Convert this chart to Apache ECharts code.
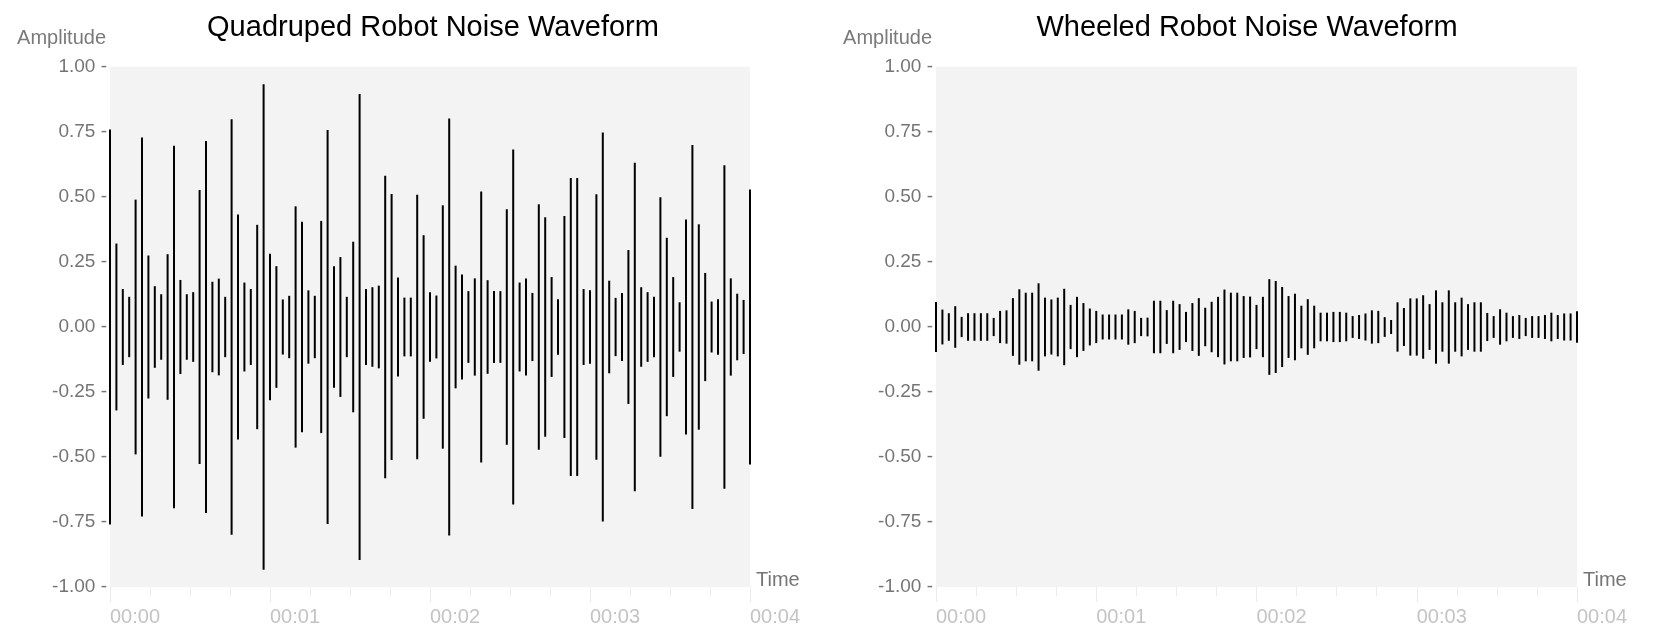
<!DOCTYPE html>
<html>
<head>
<meta charset="utf-8">
<title>Robot Noise Waveform</title>
<script src="https://cdn.jsdelivr.net/npm/echarts@6/dist/echarts.min.js"></script>
<style>
  html, body { margin: 0; padding: 0; background: #fff; }
  #chart { width: 1657px; height: 642px; }
</style>
</head>
<body>
<div id="chart"></div>
<script>
// samples per second of the waveform (one bar every 0.04 s)
const sampleRate = 25;
const timeLabels = ['00:00', '00:01', '00:02', '00:03', '00:04'];
const chartTitles = ['Quadruped Robot Noise Waveform', 'Wheeled Robot Noise Waveform'];

// peak amplitude of each sample; each bar runs from -a to +a
const quadrupedAmp = [
  0.760, 0.321, 0.146, 0.116, 0.490, 0.729, 0.275, 0.157, 0.126, 0.280,
  0.697, 0.181, 0.126, 0.134, 0.527, 0.715, 0.174, 0.186, 0.116, 0.799,
  0.433, 0.171, 0.146, 0.393, 0.934, 0.282, 0.234, 0.106, 0.120, 0.464,
  0.405, 0.141, 0.120, 0.408, 0.758, 0.234, 0.269, 0.116, 0.328, 0.896,
  0.146, 0.153, 0.159, 0.582, 0.512, 0.190, 0.113, 0.113, 0.509, 0.353,
  0.134, 0.121, 0.468, 0.802, 0.236, 0.202, 0.138, 0.187, 0.521, 0.180,
  0.138, 0.138, 0.453, 0.683, 0.171, 0.187, 0.131, 0.472, 0.422, 0.192,
  0.107, 0.427, 0.573, 0.573, 0.146, 0.141, 0.511, 0.748, 0.178, 0.112,
  0.131, 0.296, 0.632, 0.153, 0.134, 0.116, 0.499, 0.343, 0.192, 0.095,
  0.413, 0.700, 0.395, 0.208, 0.098, 0.107, 0.622, 0.187, 0.128, 0.104,
  0.529
];

const wheeledAmp = [
  0.096, 0.067, 0.053, 0.080, 0.039, 0.053, 0.053, 0.053, 0.053, 0.035,
  0.062, 0.064, 0.111, 0.145, 0.132, 0.132, 0.168, 0.113, 0.106, 0.113,
  0.147, 0.085, 0.116, 0.092, 0.071, 0.062, 0.048, 0.048, 0.048, 0.048,
  0.068, 0.062, 0.035, 0.036, 0.101, 0.101, 0.065, 0.101, 0.088, 0.058,
  0.092, 0.111, 0.074, 0.097, 0.116, 0.144, 0.132, 0.132, 0.119, 0.117,
  0.085, 0.116, 0.184, 0.177, 0.154, 0.119, 0.128, 0.082, 0.107, 0.082,
  0.055, 0.055, 0.058, 0.058, 0.055, 0.042, 0.046, 0.052, 0.064, 0.062,
  0.038, 0.027, 0.095, 0.073, 0.110, 0.110, 0.122, 0.088, 0.141, 0.095,
  0.141, 0.095, 0.113, 0.088, 0.095, 0.095, 0.054, 0.042, 0.068, 0.055,
  0.042, 0.046, 0.035, 0.042, 0.042, 0.046, 0.055, 0.046, 0.052, 0.052,
  0.061
];

const FONT = 'Arial, "Liberation Sans", sans-serif';

function toPoints(amps) {
  return amps.map((a, i) => [i / sampleRate, a]);
}

function renderBar(params, api) {
  const t = api.value(0);
  const a = api.value(1);
  const top = api.coord([t, a]);
  const bottom = api.coord([t, -a]);
  return {
    type: 'line',
    shape: { x1: top[0], y1: top[1], x2: bottom[0], y2: bottom[1] },
    style: { stroke: '#000', lineWidth: 2 },
  };
}

function makeXAxis(gridIndex) {
  return {
    gridIndex,
    type: 'value',
    min: 0,
    max: 4,
    interval: 1,
    name: 'Time',
    nameLocation: 'end',
    nameGap: 6,
    nameTextStyle: {
      color: '#757575',
      fontSize: 20,
      fontFamily: FONT,
      verticalAlign: 'bottom',
      lineHeight: 14,
    },
    axisLine: { show: false, onZero: false },
    axisTick: { show: true, length: 15, lineStyle: { color: '#ebebeb', width: 1 } },
    minorTick: { show: true, splitNumber: 4, length: 9, lineStyle: { color: '#ebebeb', width: 1 } },
    splitLine: { show: false },
    axisLabel: {
      color: '#c4c4c4',
      fontSize: 20,
      fontFamily: FONT,
      align: 'left',
      margin: 20,
      formatter: (v) => timeLabels[Math.round(v)],
    },
  };
}

function makeYAxis(gridIndex) {
  return {
    gridIndex,
    type: 'value',
    min: -1,
    max: 1,
    interval: 0.25,
    name: 'Amplitude',
    nameLocation: 'end',
    nameGap: 19,
    nameTextStyle: {
      color: '#7a7a7a',
      fontSize: 20,
      fontFamily: FONT,
      align: 'right',
      padding: [0, 4, 0, 0],
    },
    axisLine: { show: false },
    axisTick: { show: false },
    splitLine: { show: false },
    axisLabel: {
      color: '#757575',
      fontSize: 19,
      fontFamily: FONT,
      margin: 3,
      formatter: (v) => v.toFixed(2) + ' -',
    },
  };
}

const chart = echarts.init(document.getElementById('chart'));

chart.setOption({
  backgroundColor: '#ffffff',
  animation: false,
  title: [
    {
      text: chartTitles[0],
      left: 428,
      top: 8,
      textAlign: 'center',
      textStyle: { color: '#000', fontSize: 29, fontWeight: 'normal', fontFamily: FONT },
    },
    {
      text: chartTitles[1],
      left: 1242,
      top: 8,
      textAlign: 'center',
      textStyle: { color: '#000', fontSize: 29, fontWeight: 'normal', fontFamily: FONT },
    },
  ],
  grid: [
    { left: 110, right: 907, top: 67, bottom: 55, show: true, backgroundColor: '#f3f3f3', borderWidth: 0 },
    { left: 936, right: 80, top: 67, bottom: 55, show: true, backgroundColor: '#f3f3f3', borderWidth: 0 },
  ],
  xAxis: [makeXAxis(0), makeXAxis(1)],
  yAxis: [makeYAxis(0), makeYAxis(1)],
  series: [
    {
      name: 'Quadruped',
      type: 'custom',
      xAxisIndex: 0,
      yAxisIndex: 0,
      renderItem: renderBar,
      encode: { x: 0, y: 1 },
      data: toPoints(quadrupedAmp),
    },
    {
      name: 'Wheeled',
      type: 'custom',
      xAxisIndex: 1,
      yAxisIndex: 1,
      renderItem: renderBar,
      encode: { x: 0, y: 1 },
      data: toPoints(wheeledAmp),
    },
  ],
});

window.addEventListener('resize', () => chart.resize());
</script>
</body>
</html>
